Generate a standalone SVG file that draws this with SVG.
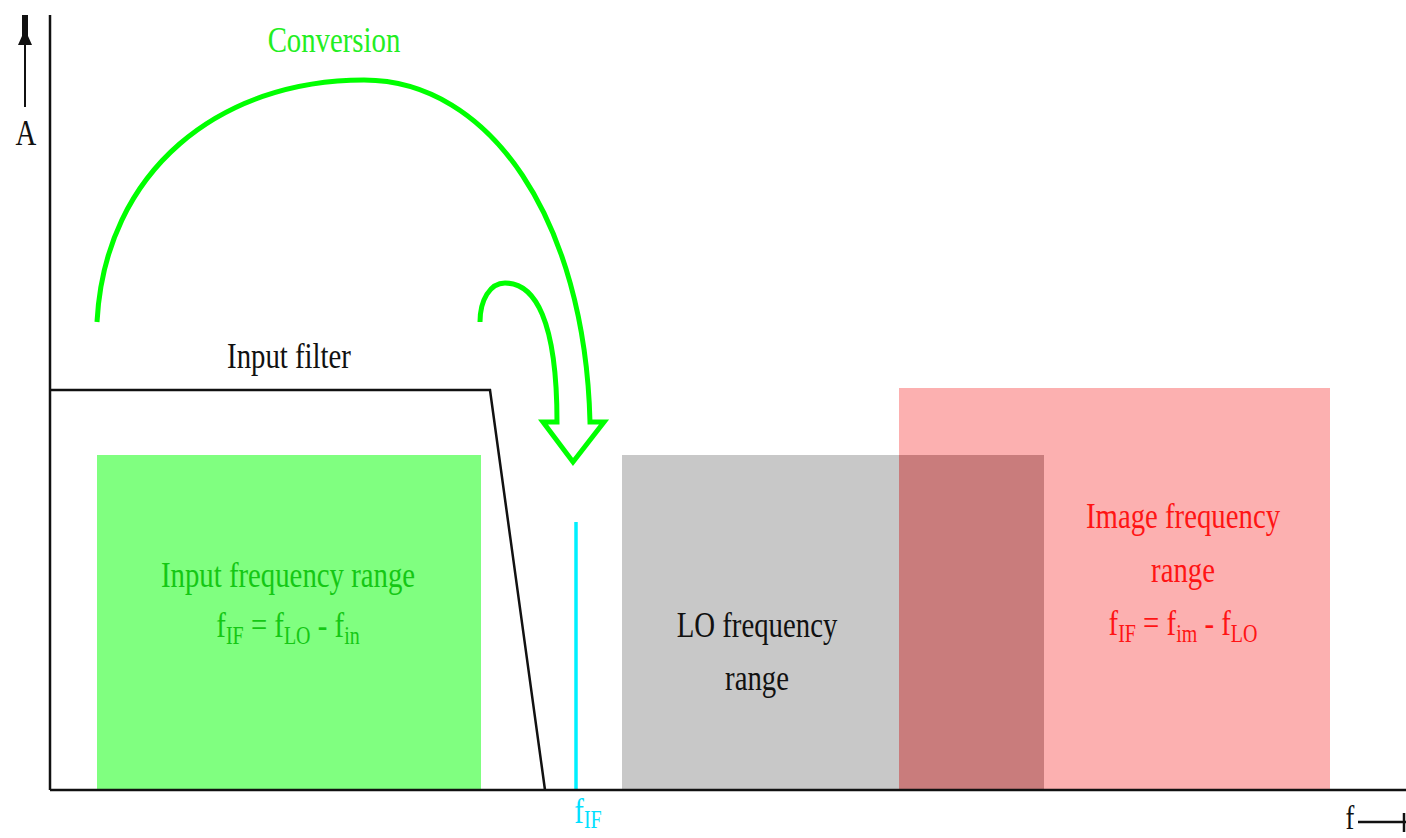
<svg xmlns="http://www.w3.org/2000/svg" width="1406" height="838" viewBox="0 0 1406 838">
<style>
.t{font-family:"Liberation Serif","DejaVu Serif",serif;font-size:36px;text-anchor:middle}
.s{font-size:25px}
.g{fill:#14c814}
.r{fill:#ff1414}
.k{fill:#111}
.conv{fill:none;stroke:#00ff00;stroke-width:5;stroke-linejoin:miter}
.ax{stroke:#111;stroke-width:2.5;fill:none}
</style>
<rect width="1406" height="838" fill="#ffffff"/>
<g id="input-range">
<rect x="97" y="455" width="384" height="335" fill="#80ff80"/>
<text class="t g" transform="translate(288,587) scale(0.8,1)">Input frequency range</text>
<text class="t g" transform="translate(288,637) scale(0.8,1)">f<tspan class="s" dy="7">IF</tspan><tspan dy="-7"> = f</tspan><tspan class="s" dy="7">LO</tspan><tspan dy="-7"> - f</tspan><tspan class="s" dy="7">in</tspan></text>
</g>
<g id="lo-range">
<rect x="622" y="455" width="422" height="335" fill="#c8c8c8"/>
<text class="t k" transform="translate(757,637) scale(0.8,1)">LO frequency</text>
<text class="t k" transform="translate(757,690) scale(0.8,1)">range</text>
</g>
<g id="image-range">
<rect x="899" y="388" width="431" height="402" fill="#fcb0b0"/>
<rect x="899" y="455" width="145" height="335" fill="#c97c7c"/>
<text class="t r" transform="translate(1183,528) scale(0.8,1)">Image frequency</text>
<text class="t r" transform="translate(1183,582) scale(0.8,1)">range</text>
<text class="t r" transform="translate(1183,635) scale(0.8,1)">f<tspan class="s" dy="7">IF</tspan><tspan dy="-7"> = f</tspan><tspan class="s" dy="7">im</tspan><tspan dy="-7"> - f</tspan><tspan class="s" dy="7">LO</tspan></text>
</g>
<g id="input-filter">
<polyline points="50,390 490,390 545,790" fill="none" stroke="#111" stroke-width="2.5"/>
<text class="t k" transform="translate(289,368) scale(0.8,1)">Input filter</text>
</g>
<g id="if-line">
<line x1="576" y1="522" x2="576" y2="790" stroke="#00f0ff" stroke-width="3.5"/>
<text class="t" fill="#00e0ff" transform="translate(588,823) scale(0.8,1)">f<tspan class="s" dy="5">IF</tspan></text>
</g>
<g id="axes">
<line class="ax" x1="50" y1="15" x2="50" y2="790"/>
<line class="ax" x1="50" y1="790" x2="1406" y2="790"/>
<line x1="25" y1="40" x2="25" y2="107" stroke="#111" stroke-width="2"/>
<polygon points="22,15 28,15 28,36 32,45 18,45 22,36" fill="#111"/>
<text class="t k" transform="translate(26,145) scale(0.8,1)">A</text>
<text class="t k" style="font-size:33px" transform="translate(1350,829) scale(0.8,1)">f</text>
<line x1="1358" y1="822" x2="1406" y2="822" stroke="#111" stroke-width="2.5"/>
<line x1="1404" y1="813" x2="1404" y2="832" stroke="#111" stroke-width="2.5"/>
</g>
<g id="connectors">
<path class="conv" d="M97,322 C105,170 220,80 364,80 C490,80 585,220 590,422 L604,422 L573,462 L543,422 L557,422 C557,320 535,283 505,283 C490,283 480,300 480,322"/>
<text class="t" fill="#22ee22" transform="translate(334,52) scale(0.8,1)">Conversion</text>
</g>
</svg>
